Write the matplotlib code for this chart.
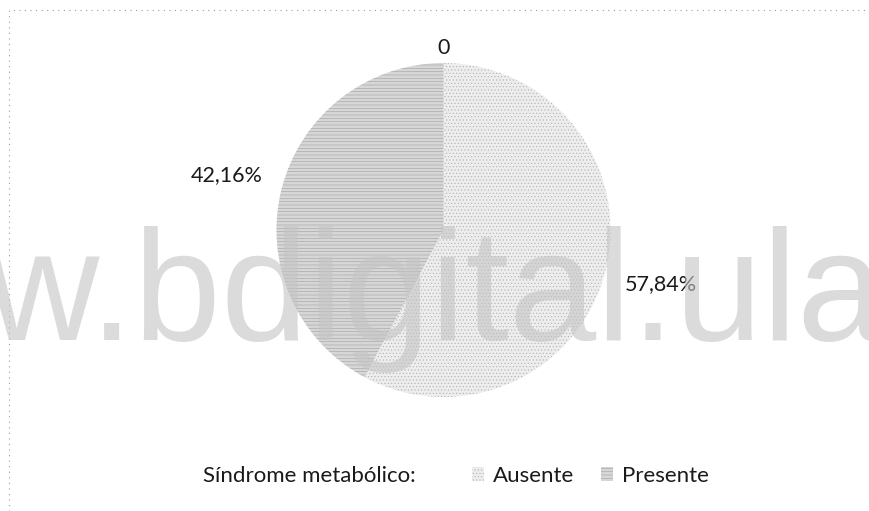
import pandas as pd
import matplotlib.pyplot as plt
from matplotlib.patches import Rectangle
import numpy as np

plt.rcParams['hatch.linewidth'] = 0.35


class PieChartVisualizer:
    def __init__(self):
        super().__init__()

        self.initUI()

    def initUI(self):
        # Create figure
        self.figure = plt.figure(figsize=(8.69, 5.11), dpi=100)
        self.ax = self.figure.add_axes([276.5 / 869, 114 / 511, 334 / 869, 334 / 511])

        self.data = pd.DataFrame({"grupo": ["Ausente", "Presente"],
                                  "porcentaje": [57.84, 42.16]})

        self.legend_title = "Síndrome metabólico:"
        self.watermark = "w.bdigital.ula"

        self.update_piechart()

    def update_piechart(self):
        self.ax.clear()

        face_colors = ['#ededed', '#d6d6d6']
        hatch_colors = ['#ababab', '#9a9a9a']
        hatches = ['.....', '-----']

        wedges, texts, autotexts = self.ax.pie(
            self.data["porcentaje"], startangle=90, counterclock=False,
            colors=face_colors, radius=1,
            autopct=lambda p: f'{p:.2f}%'.replace('.', ','), pctdistance=1.34,
            textprops={'fontsize': 15.5, 'family': 'Lato', 'color': '#1a1a1a'},
            wedgeprops={'linewidth': 0}
        )
        for w, h, hc in zip(wedges, hatches, hatch_colors):
            w.set_hatch(h)
            w.set_edgecolor(hc)
            w.set_linewidth(0)

        # zero label at the top of the pie
        self.ax.text(0, 1.09, "0", ha='center', va='center', fontsize=15.5,
                     family='Lato', color='#1a1a1a')

        self.ax.set_xlim(-1, 1)
        self.ax.set_ylim(-1, 1)
        self.ax.set_aspect('equal')
        self.ax.axis('off')

        # Legend at the bottom
        self.figure.text(203 / 869, 1 - 476 / 511, self.legend_title, ha='left', va='center',
                         fontsize=16, family='Lato', color='#1a1a1a')
        self.figure.legend(wedges, self.data["grupo"], loc='center left',
                           bbox_to_anchor=(452 / 869, 1 - 476 / 511), ncol=2, frameon=False,
                           prop={'family': 'Lato', 'size': 16}, handlelength=0.55,
                           handleheight=0.55, handletextpad=0.4, columnspacing=1.2,
                           labelcolor='#1a1a1a')

        # Dotted frame of the chart area
        frame = Rectangle((9 / 869, -0.05), 1.0, 1 - 10 / 511 + 0.05, transform=self.figure.transFigure,
                          fill=False, linestyle=(0, (1, 4)), linewidth=0.8, edgecolor='#9a9a9a')
        self.figure.add_artist(frame)

        # Watermark over the chart
        self.figure.text(0.5, 1 - 340 / 511, self.watermark, ha='center', va='baseline',
                         fontsize=113, family='Liberation Sans', color='#c4c4c4', alpha=0.6)

    def save_piechart(self, file_name):
        if file_name:
            self.figure.savefig(file_name, dpi=100)


if __name__ == '__main__':
    my_app = PieChartVisualizer()
    my_app.save_piechart("out.png")
